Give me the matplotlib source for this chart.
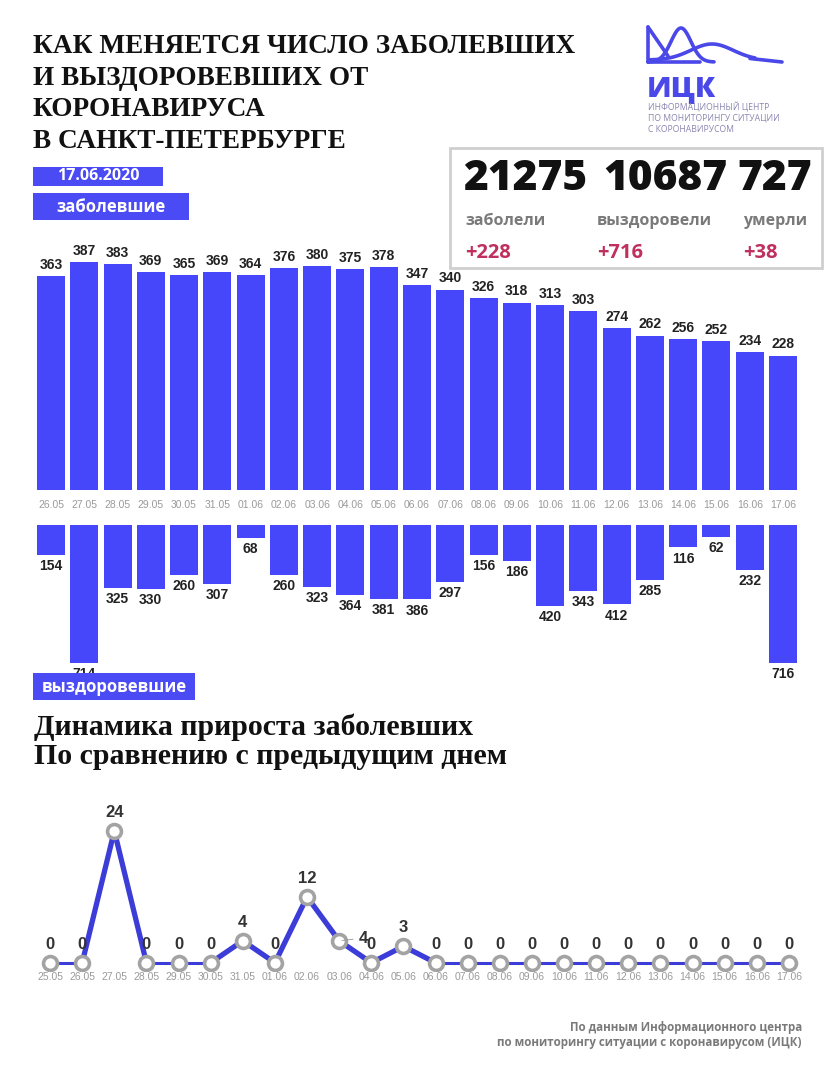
import numpy as np
import matplotlib.pyplot as plt
from matplotlib.patches import Rectangle

# --- data ---
bar_dates = ["26.05", "27.05", "28.05", "29.05", "30.05", "31.05", "01.06", "02.06",
             "03.06", "04.06", "05.06", "06.06", "07.06", "08.06", "09.06", "10.06",
             "11.06", "12.06", "13.06", "14.06", "15.06", "16.06", "17.06"]
infected = [363, 387, 383, 369, 365, 369, 364, 376, 380, 375, 378, 347,
            340, 326, 318, 313, 303, 274, 262, 256, 252, 234, 228]
recovered = [154, 714, 325, 330, 260, 307, 68, 260, 323, 364, 381, 386,
             297, 156, 186, 420, 343, 412, 285, 116, 62, 232, 716]

line_dates = ["25.05"] + bar_dates
growth = [0, 0, 24, 0, 0, 0, 4, 0, 12, 4, 0, 3,
          0, 0, 0, 0, 0, 0, 0, 0, 0, 0, 0, 0]

totals = ["21275", "10687", "727"]
total_labels = ["заболели", "выздоровели", "умерли"]
daily = ["+228", "+716", "+38"]

BLUE = "#4646fa"
LINE_BLUE = "#3c3cd8"
LOGO = "#4a48e8"
W, H = 837, 1080

fig = plt.figure(figsize=(W / 100, H / 100), dpi=100)
fig.patch.set_facecolor("white")


def box(x0, y0, x1, y1):
    # pixel box (top-left origin) -> figure fraction [l, b, w, h]
    return [x0 / W, 1 - y1 / H, (x1 - x0) / W, (y1 - y0) / H]


def ftext(x, y, s, **kw):
    fig.text(x / W, 1 - y / H, s, **kw)


def label_box(x0, y0, x1, y1, s, size):
    l, b, w, h = box(x0, y0, x1, y1)
    fig.add_artist(Rectangle((l, b), w, h, transform=fig.transFigure,
                             facecolor="#4b4bf6", edgecolor="none"))
    fig.text(l + w / 2, b + h / 2, s, color="white", fontsize=size,
             fontweight="bold", family="Open Sans", ha="center", va="center")


# --- title ---
title_lines = ["КАК МЕНЯЕТСЯ ЧИСЛО ЗАБОЛЕВШИХ", "И ВЫЗДОРОВЕВШИХ ОТ",
               "КОРОНАВИРУСА", "В САНКТ-ПЕТЕРБУРГЕ"]
for i, line in enumerate(title_lines):
    ftext(33, 53 + i * 31.7, line, fontsize=19.6, fontweight="bold",
          family="Liberation Serif", va="baseline", color="#111111")

label_box(33, 167, 163, 186, "17.06.2020", 11.5)
label_box(33, 193, 189, 220, "заболевшие", 12)

# --- logo ---
logo = fig.add_axes(box(645, 24, 785, 66))
logo.set_xlim(645, 785)
logo.set_ylim(66, 24)
logo.axis("off")
t = np.linspace(0, 1, 80)
kw = dict(color=LOGO, lw=2.6, solid_capstyle="round")
logo.plot([648, 648], [27, 62], **kw)
logo.plot([648, 668], [27, 56], **kw)
xb = 648 + 66 * t
logo.plot(xb, 62 - 34 * np.exp(-((xb - 681) / 14) ** 2), **kw)
xc = 650 + 105 * t
logo.plot(xc, 60 - 16 * np.exp(-((xc - 712) / 30) ** 2), **kw)
logo.plot([750, 782], [58.5, 62], **kw)
logo.plot([648, 700], [62, 62], **kw)
ftext(647, 96, "ИЦК", fontsize=21, fontweight="heavy", family="Open Sans",
      color=LOGO, va="baseline")
for i, s in enumerate(["ИНФОРМАЦИОННЫЙ ЦЕНТР", "ПО МОНИТОРИНГУ СИТУАЦИИ",
                       "С КОРОНАВИРУСОМ"]):
    ftext(648, 110 + i * 11, s, fontsize=6.2, family="Open Sans",
          color="#8a86b0", va="baseline")

# --- totals box ---
l, b, w, h = box(450, 148, 822, 268)
fig.add_artist(Rectangle((l, b), w, h, transform=fig.transFigure,
                         facecolor="white", edgecolor="#cfcfcf", lw=2))
num_x = [463, 603, 737]
lab_x = [465, 597, 743]
for i in range(3):
    ftext(num_x[i], 190, totals[i], fontsize=30.5, fontweight="heavy",
          family="Open Sans", color="#111111", va="baseline")
    ftext(lab_x[i], 225, total_labels[i], fontsize=11.5, fontweight="bold",
          family="Open Sans", color="#7a7a7a", va="baseline")
    ftext(lab_x[i], 258, daily[i], fontsize=14.5, fontweight="bold",
          family="Open Sans", color="#c0305f", va="baseline")

# --- infected bars ---
x = np.arange(len(bar_dates))
ax1 = fig.add_axes(box(37, 240, 797, 490))
bars = ax1.bar(x, infected, width=0.84, color=BLUE)
ax1.bar_label(bars, padding=3, fontsize=10, fontweight="bold",
              family="Liberation Sans", color="#222222")
ax1.set_xlim(-0.42, len(x) - 0.58)
ax1.set_ylim(0, 424)
ax1.set_xticks(x)
ax1.set_xticklabels(bar_dates, fontsize=7.5, color="#9a9a9a",
                    family="Liberation Sans")
ax1.tick_params(length=0, pad=7)
ax1.set_yticks([])
for sp in ax1.spines.values():
    sp.set_visible(False)

# --- recovered bars ---
ax2 = fig.add_axes(box(37, 525, 797, 700))
bars2 = ax2.bar(x, [-v for v in recovered], width=0.84, color=BLUE)
ax2.bar_label(bars2, labels=[str(v) for v in recovered], padding=3,
              fontsize=10, fontweight="bold", family="Liberation Sans",
              color="#222222")
ax2.set_xlim(-0.42, len(x) - 0.58)
ax2.set_ylim(-907, 0)
ax2.axis("off")

label_box(33, 673, 195, 700, "выздоровевшие", 12)

# --- growth line ---
ftext(34, 735, "Динамика прироста заболевших", fontsize=21.5,
      fontweight="bold", family="Liberation Serif", va="baseline",
      color="#111111")
ftext(34, 764, "По сравнению с предыдущим днем", fontsize=21.5,
      fontweight="bold", family="Liberation Serif", va="baseline",
      color="#111111")

xl = np.arange(len(line_dates))
ax3 = fig.add_axes(box(34, 809, 805, 971))
for i in range(len(growth) - 1):
    thick = growth[i] or growth[i + 1]
    ax3.plot(xl[i:i + 2], growth[i:i + 2], color=LINE_BLUE,
             lw=3.8 if thick else 2.2, zorder=2)
ax3.plot(xl, growth, ls="none", marker="o", ms=10, mfc="white",
         mec="#a3a3a3", mew=2.6, zorder=3)
for i, v in enumerate(growth):
    if i == 9:
        ax3.annotate(str(v), (xl[i], v), xytext=(14, 2),
                     textcoords="offset points", ha="left", va="center",
                     fontsize=12, fontweight="bold", family="Liberation Sans",
                     color="#333333",
                     arrowprops=dict(arrowstyle="-", color="#999999", lw=0.6))
    else:
        ax3.annotate(str(v), (xl[i], v), xytext=(0, 8),
                     textcoords="offset points", ha="center", va="bottom",
                     fontsize=12, fontweight="bold", family="Liberation Sans",
                     color="#333333")
ax3.set_xlim(-0.5, len(xl) - 0.5)
ax3.set_ylim(-1.5, 28)
ax3.set_xticks(xl)
ax3.set_xticklabels(line_dates, fontsize=7.5, color="#9a9a9a",
                    family="Liberation Sans")
ax3.tick_params(length=0, pad=1)
ax3.set_yticks([])
for sp in ax3.spines.values():
    sp.set_visible(False)

# --- footer ---
ftext(802, 1031, "По данным Информационного центра", fontsize=8.3,
      fontweight="bold", family="Open Sans", color="#7a7a7a", ha="right",
      va="baseline")
ftext(802, 1046, "по мониторингу ситуации с коронавирусом (ИЦК)",
      fontsize=8.3, fontweight="bold", family="Open Sans", color="#7a7a7a",
      ha="right", va="baseline")

fig.savefig("out.png", dpi=100)
